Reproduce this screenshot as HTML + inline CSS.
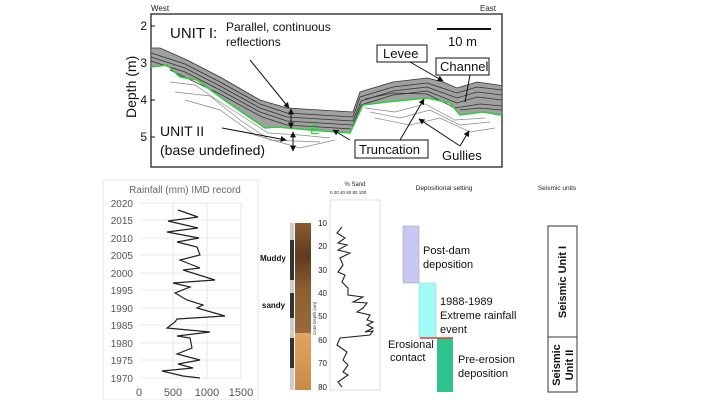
<!DOCTYPE html>
<html><head><style>
body{margin:0;background:#fff;}
svg{display:block;font-family:"Liberation Sans",sans-serif;}
</style></head><body>
<svg width="720" height="400" viewBox="0 0 720 400">
<defs>
<marker id="ah" viewBox="0 0 10 10" refX="9" refY="5" markerWidth="6" markerHeight="6" orient="auto-start-reverse"><path d="M0,0 L10,5 L0,10 z" fill="#111"/></marker>
<linearGradient id="core1" x1="0" y1="0" x2="0" y2="1"><stop offset="0" stop-color="#8a5a30"/><stop offset="0.3" stop-color="#5e3b1e"/><stop offset="0.6" stop-color="#8c5d33"/><stop offset="1" stop-color="#9a6a3c"/></linearGradient>
<linearGradient id="core2" x1="0" y1="0" x2="0" y2="1"><stop offset="0" stop-color="#e0a560"/><stop offset="1" stop-color="#c98a4a"/></linearGradient>
</defs>
<!-- Seismic panel -->
<text x="151" y="11" font-size="8" fill="#222">West</text>
<text x="480" y="11" font-size="8" fill="#222">East</text>
<rect x="151" y="14" width="351" height="153" fill="#fff" stroke="#111" stroke-width="1.2"/>
<g font-size="12" fill="#111" text-anchor="end">
<text x="147" y="30">2</text><text x="147" y="67">3</text><text x="147" y="104">4</text><text x="147" y="141">5</text>
</g>
<g stroke="#111"><line x1="151" y1="26" x2="155" y2="26"/><line x1="151" y1="63" x2="155" y2="63"/><line x1="151" y1="100" x2="155" y2="100"/><line x1="151" y1="137" x2="155" y2="137"/></g>
<text transform="translate(136,118) rotate(-90)" font-size="14" fill="#111">Depth (m)</text>
<polygon points="151,48 160,48 187,60 220,77 260,100 287,108 353,112 360,92 373,88 393,82 427,78 443,82 457,88 477,82 498,85 502,86 502,115 498,115 483,112 460,115 450,103 427,98 387,102 363,105 350,133 310,130 277,127 265,128 243,113 220,97 197,80 180,77 167,65 151,67" fill="#a0a0a0" stroke="#333" stroke-width="0.8"/>
<g fill="none" stroke="#333" stroke-width="0.8">
<polyline points="151,53 185,64 220,82 260,104 287,113 353,117 360,97 393,87 427,83 457,93 477,87 502,90"/>
<polyline points="151,57 185,68 220,86 260,108 287,117 353,121 361,101 393,91 427,87 457,98 477,92 502,95"/>
<polyline points="151,61 185,72 220,90 260,112 287,121 353,125 361,105 393,95 427,91 457,103 477,97 502,100"/>
<polyline points="170,70 220,94 262,117 287,125 352,129"/>
<polyline points="365,99 393,93 427,94 455,108 480,104 502,106"/>
<polyline points="460,110 480,108 502,110"/>
</g>
<polyline points="151,67 167,65 180,77 197,80 220,97 243,113 265,128 277,127 310,130 350,133 363,105 387,102 427,98 450,103 460,115 483,112 502,115" fill="none" stroke="#2ecc40" stroke-width="1.5"/>
<g fill="none" stroke="#888" stroke-width="0.7">
<polyline points="170,82 195,85 220,102 245,118 268,133 300,135 330,138"/>
<polyline points="175,92 210,96 240,120 270,140 320,142"/>
<polyline points="185,100 220,110 255,135 300,148 335,140"/>
<polyline points="370,112 400,118 430,110 460,125 490,122"/>
<polyline points="375,118 410,125 440,118 470,132 495,128"/>
<polyline points="365,108 395,112 425,104 455,120 485,118"/>
</g>
<line x1="437" y1="29" x2="491" y2="29" stroke="#111" stroke-width="2"/>
<text x="448" y="46" font-size="13" fill="#111">10 m</text>
<text x="170" y="38" font-size="15" fill="#111">UNIT I:</text>
<text x="226" y="31" font-size="12" fill="#111">Parallel, continuous</text>
<text x="226" y="46" font-size="12" fill="#111">reflections</text>
<text x="160" y="136" font-size="14" fill="#111">UNIT II</text>
<text x="160" y="155" font-size="14" fill="#111">(base undefined)</text>
<text x="310" y="134" font-size="14" fill="#2ecc40">E</text>
<g stroke="#111" stroke-width="1" fill="none">
<line x1="250" y1="60" x2="289" y2="108" marker-end="url(#ah)"/>
<line x1="222" y1="128" x2="286" y2="140" marker-end="url(#ah)"/>
<line x1="291" y1="109" x2="291" y2="128" marker-start="url(#ah)" marker-end="url(#ah)"/>
<line x1="293" y1="132" x2="293" y2="151" marker-start="url(#ah)" marker-end="url(#ah)"/>
<line x1="350" y1="140" x2="333" y2="130" marker-end="url(#ah)"/>
<line x1="400" y1="140" x2="424" y2="99" marker-end="url(#ah)"/>
<line x1="410" y1="62" x2="443" y2="81" marker-end="url(#ah)"/>
<line x1="470" y1="75" x2="465" y2="102"/>
<line x1="460" y1="146" x2="419" y2="119" marker-end="url(#ah)"/>
<line x1="460" y1="146" x2="469" y2="131" marker-end="url(#ah)"/>
</g>
<rect x="377" y="45" width="50" height="17" fill="#fff" stroke="#111"/>
<text x="383" y="58" font-size="13" fill="#111">Levee</text>
<rect x="436" y="58" width="53" height="17" fill="#fff" stroke="#111"/>
<text x="440" y="71" font-size="13" fill="#111">Channel</text>
<rect x="355" y="140" width="73" height="18" fill="#fff" stroke="#111"/>
<text x="359" y="154" font-size="13" fill="#111">Truncation</text>
<text x="442" y="160" font-size="13" fill="#111">Gullies</text>

<!-- Rainfall chart -->
<rect x="103" y="180" width="155" height="220" fill="#fff" stroke="#e4e4e4"/>
<text x="185" y="193" font-size="10" fill="#666" text-anchor="middle">Rainfall (mm) IMD record</text>
<g stroke="#e0e0e0" stroke-width="0.8">
<line x1="139" y1="203" x2="241" y2="203"/><line x1="139" y1="220" x2="241" y2="220"/><line x1="139" y1="238" x2="241" y2="238"/><line x1="139" y1="255" x2="241" y2="255"/><line x1="139" y1="273" x2="241" y2="273"/><line x1="139" y1="290" x2="241" y2="290"/><line x1="139" y1="308" x2="241" y2="308"/><line x1="139" y1="325" x2="241" y2="325"/><line x1="139" y1="343" x2="241" y2="343"/><line x1="139" y1="360" x2="241" y2="360"/><line x1="139" y1="378" x2="241" y2="378"/>
<line x1="173" y1="203" x2="173" y2="378"/><line x1="207" y1="203" x2="207" y2="378"/><line x1="241" y1="203" x2="241" y2="378"/>
</g>
<g font-size="10" fill="#555" text-anchor="end">
<text x="133" y="207">2020</text><text x="133" y="224">2015</text><text x="133" y="242">2010</text><text x="133" y="259">2005</text><text x="133" y="277">2000</text><text x="133" y="294">1995</text><text x="133" y="312">1990</text><text x="133" y="329">1985</text><text x="133" y="347">1980</text><text x="133" y="364">1975</text><text x="133" y="382">1970</text>
</g>
<g font-size="11" fill="#555" text-anchor="middle">
<text x="139" y="396">0</text><text x="173" y="396">500</text><text x="207" y="396">1000</text><text x="241" y="396">1500</text>
</g>
<polyline points="178,210 198,217 168,221 198,228 167,232 199,238 177,242 197,247 200,255 180,260 200,268 183,270 215,280 173,283 190,287 175,293 187,300 203,305 197,308 225,316 177,319 175,322 167,328 210,332 177,336 190,338 192,348 177,354 200,360 178,364 193,368 162,371 183,376 200,378" fill="none" stroke="#222" stroke-width="1.2"/>

<!-- Core -->
<rect x="290" y="223" width="4" height="167" fill="#ccc"/>
<rect x="290" y="240" width="4" height="40" fill="#333"/>
<rect x="290" y="293" width="4" height="25" fill="#333"/>
<rect x="290" y="338" width="4" height="30" fill="#333"/>
<rect x="295" y="223" width="16" height="110" fill="url(#core1)"/>
<rect x="295" y="333" width="16" height="57" fill="url(#core2)"/>
<text x="260" y="261" font-size="8" font-weight="bold" fill="#111">Muddy</text>
<text x="262" y="308" font-size="8" font-weight="bold" fill="#111">sandy</text>
<text transform="translate(316,335) rotate(-90)" font-size="4.5" fill="#333">Core Depth (cm)</text>

<!-- Sand plot -->
<text x="355" y="186" font-size="6" fill="#222" text-anchor="middle">% Sand</text>
<text x="330" y="194" font-size="4.5" fill="#222">0 20 40 60 80 100</text>
<rect x="330" y="200" width="50" height="190" fill="none" stroke="#ddd"/>
<g font-size="8" fill="#222" text-anchor="end">
<text x="327" y="226">10</text><text x="327" y="249">20</text><text x="327" y="273">30</text><text x="327" y="296">40</text><text x="327" y="319">50</text><text x="327" y="343">60</text><text x="327" y="366">70</text><text x="327" y="390">80</text>
</g>
<polyline points="342,227 337,233 345,238 338,243 347,245 338,250 350,253 340,258 343,265 338,272 345,275 342,282 348,288 348,295 363,297 353,302 367,303 363,308 357,312 370,315 367,320 373,322 367,325 373,328 365,332 373,331 370,335 340,338 337,345 347,352 343,360 348,365 343,372 348,375 338,382 342,387" fill="none" stroke="#222" stroke-width="1.1"/>

<!-- Depositional setting -->
<text x="444" y="190" font-size="6.5" fill="#222" text-anchor="middle">Depositional setting</text>
<rect x="403" y="226" width="16" height="57" fill="#c8c8f4" stroke="#999" stroke-width="0.5"/>
<rect x="419" y="283" width="17" height="55" fill="#a0fbf8" stroke="#9cc" stroke-width="0.5"/>
<rect x="437" y="338" width="16" height="54" fill="#2fc48e"/>
<line x1="420" y1="338" x2="453" y2="338" stroke="#e03a3a" stroke-width="1.5"/>
<g font-size="11" fill="#111">
<text x="423" y="254">Post-dam</text><text x="423" y="268">deposition</text>
<text x="440" y="305">1988-1989</text><text x="440" y="319">Extreme rainfall</text><text x="440" y="333">event</text>
<text x="388" y="348">Erosional</text><text x="390" y="361">contact</text>
<text x="458" y="363">Pre-erosion</text><text x="458" y="377">deposition</text>
</g>

<!-- Seismic units -->
<text x="557" y="190" font-size="6.5" fill="#222" text-anchor="middle">Seismic units</text>
<rect x="548" y="226" width="29" height="166" fill="#fff" stroke="#333"/>
<line x1="548" y1="337" x2="577" y2="337" stroke="#333"/>
<text transform="translate(566,282) rotate(-90)" font-size="11" font-weight="bold" fill="#111" text-anchor="middle">Seismic Unit I</text>
<text transform="translate(560,365) rotate(-90)" font-size="11" font-weight="bold" fill="#111" text-anchor="middle">Seismic</text>
<text transform="translate(573,365) rotate(-90)" font-size="11" font-weight="bold" fill="#111" text-anchor="middle">Unit II</text>
</svg>
</body></html>
